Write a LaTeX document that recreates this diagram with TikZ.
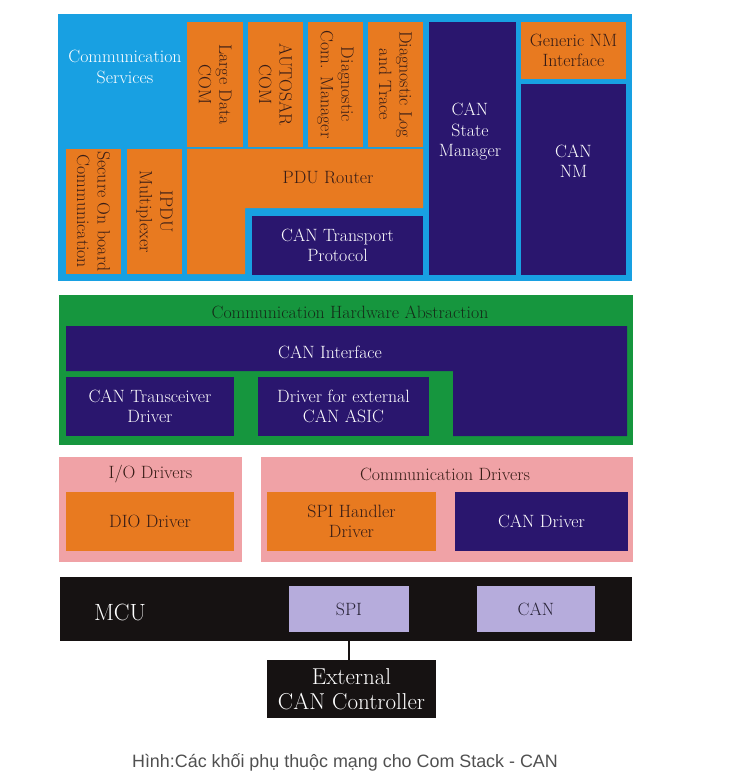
\documentclass[tikz,border=0pt]{standalone}
\usepackage{fontspec}
\newfontfamily\capfont{Liberation Sans}
\definecolor{cblue}{RGB}{24,160,226}
\definecolor{corange}{RGB}{232,122,32}
\definecolor{cnavy}{RGB}{42,22,110}
\definecolor{cgreen}{RGB}{22,150,62}
\definecolor{cpink}{RGB}{240,162,166}
\definecolor{clav}{RGB}{182,172,220}
\definecolor{cblack}{RGB}{22,18,18}
\definecolor{tdark}{RGB}{55,28,22}
\definecolor{tgreen}{RGB}{20,45,25}
\definecolor{tlav}{RGB}{40,35,55}
\definecolor{tcap}{RGB}{80,80,80}
\tikzset{
  box/.style={inner sep=0pt, outer sep=0pt, align=center, font=\fontsize{17.8}{20.5}\selectfont},
  obox/.style={box, fill=corange, text=tdark},
  nbox/.style={box, fill=cnavy, text=white},
  vtext/.style={rotate=-90},
  txt/.style={inner sep=0pt, align=center, font=\fontsize{17.8}{20.5}\selectfont},
}
\begin{document}
\begin{tikzpicture}[x=1pt,y=-1pt]
\useasboundingbox (0,0) rectangle (744,778);
% ---------- Communication Services ----------
\node[box, fill=cblue, minimum width=574, minimum height=267] (cs) at (345,147.5) {};
\node[txt, text=white] (cstxt) at (125,67) {Communication\\Services};
\node[obox, minimum width=56, minimum height=125] (ldc) at (215,84.5) {};
\node[txt, vtext, text=tdark] (ldct) at (ldc) {Large Data\\COM};
\node[obox, minimum width=55, minimum height=125] (acom) at (275.5,84.5) {};
\node[txt, vtext, text=tdark] (acomt) at (acom) {AUTOSAR\\COM};
\node[obox, minimum width=55, minimum height=125] (dcm) at (335.5,84.5) {};
\node[txt, vtext, text=tdark] (dcmt) at (dcm) {Diagnostic\\Com. Manager};
\node[obox, minimum width=55, minimum height=125] (dlt) at (395.5,84.5) {};
\node[txt, vtext, text=tdark] (dltt) at (dlt) {Diagnostic Log\\and Trace};
\node[obox, minimum width=55, minimum height=125] (soc) at (93.5,211.5) {};
\node[txt, vtext, text=tdark] (soct) at (soc) {Secure On board\\Communication};
\node[obox, minimum width=55, minimum height=125] (ipdu) at (154.5,211.5) {};
\node[txt, vtext, text=tdark] (ipdut) at (ipdu) {IPDU\\Multiplexer};
\fill[corange] (187,149) -- (423,149) -- (423,208) -- (245,208) -- (245,274) -- (187,274) -- cycle;
\node[txt, text=tdark] (pdu) at (328,178) {PDU Router};
\node[nbox, minimum width=171, minimum height=59] (ctp) at (337.5,245.5) {CAN Transport\\Protocol};
\node[nbox, minimum width=87, minimum height=253] (csm) at (472.5,148.5) {};
\node[txt, text=white] (csmt) at (470,132) {CAN\\State\\Manager};
\node[obox, minimum width=105, minimum height=57] (gnm) at (573.5,50.5) {Generic NM\\Interface};
\node[nbox, minimum width=105, minimum height=191] (cnm) at (573.5,179.5) {};
\node[txt, text=white] (cnmt) at (573.5,161) {CAN\\NM};
% ---------- Communication Hardware Abstraction ----------
\node[box, fill=cgreen, minimum width=574, minimum height=150] (cha) at (346,370) {};
\node[txt, text=tgreen] (chat) at (350,312) {Communication Hardware Abstraction};
\fill[cnavy] (66,326) -- (627,326) -- (627,436) -- (453,436) -- (453,371) -- (66,371) -- cycle;
\node[txt, text=white] (canif) at (330,352) {CAN Interface};
\node[nbox, minimum width=168, minimum height=59] (ctd) at (150,406.5) {CAN Transceiver\\Driver};
\node[nbox, minimum width=171, minimum height=59] (dext) at (343.5,406.5) {Driver for external\\CAN ASIC};
% ---------- Drivers ----------
\node[box, fill=cpink, minimum width=183, minimum height=105] (iod) at (150.5,509.5) {};
\node[txt, text=tdark] (iodt) at (150.5,474) {I/O Drivers};
\node[obox, minimum width=168, minimum height=59] (dio) at (150,521.5) {DIO Driver};
\node[box, fill=cpink, minimum width=372, minimum height=105] (cd) at (447,509.5) {};
\node[txt, text=tdark] (cdt) at (445,474) {Communication Drivers};
\node[obox, minimum width=169, minimum height=59] (spih) at (351.5,521.5) {SPI Handler\\Driver};
\node[nbox, minimum width=173, minimum height=59] (cand) at (541.5,521.5) {CAN Driver};
% ---------- MCU ----------
\node[box, fill=cblack, minimum width=572, minimum height=64] (mcu) at (346,609) {};
\node[txt, text=white, font=\fontsize{23.5}{27}\selectfont] (mcut) at (120,612) {MCU};
\node[box, fill=clav, text=tlav, minimum width=120, minimum height=46] (spi) at (349,609) {SPI};
\node[box, fill=clav, text=tlav, minimum width=118, minimum height=46] (can) at (536,609) {CAN};
\node[box, fill=cblack, text=white, minimum width=169, minimum height=58, font=\fontsize{23}{25}\selectfont] (ext) at (351.5,689) {External\\CAN Controller};
\draw[cblack, line width=2.2pt] (spi.south) -- (spi.south |- ext.north);
% ---------- caption ----------
\node[inner sep=0pt, text=tcap, font=\capfont\fontsize{17.9}{21}\selectfont] (cap) at (345,762) {Hình:Các khối phụ thuộc mạng cho Com Stack - CAN};
\end{tikzpicture}
\end{document}
